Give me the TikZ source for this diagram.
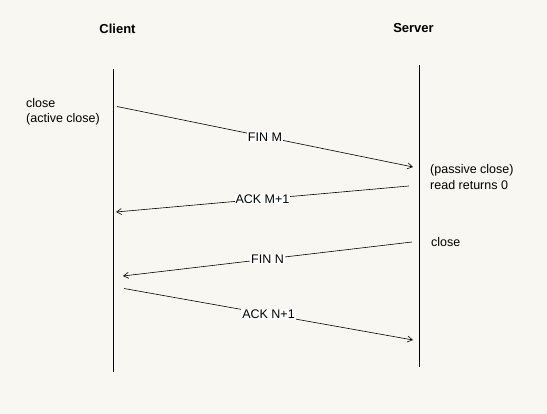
\documentclass[tikz,border=0pt]{standalone}
\usepackage{fontspec}
\setmainfont{Liberation Sans}
\usetikzlibrary{arrows.meta}
\definecolor{bgc}{RGB}{249,247,241}
\begin{document}
\begin{tikzpicture}[x=1pt,y=-1pt,
  lbl/.style={font=\fontsize{12.5}{16}\selectfont, inner sep=0pt, anchor=west, align=left},
  ttl/.style={font=\fontsize{13}{16}\selectfont\bfseries, inner sep=0pt},
  msg/.style={fill=white, inner sep=1pt, font=\fontsize{12.5}{15}\selectfont},
  life/.style={line width=0.8pt},
  arr/.style={line width=0.6pt, -{Straight Barb[length=5pt,width=6pt]}}]
\fill[bgc] (0,0) rectangle (547,414);
\useasboundingbox (0,0) rectangle (547,414);
% titles
\node[ttl] (client) at (117.5,28.5) {Client};
\node[ttl] (server) at (413.5,28.5) {Server};
% lifelines
\coordinate (ct) at (113,69);
\coordinate (cb) at (113,372);
\coordinate (st) at (419,65);
\coordinate (sb) at (419,367);
\draw[life] (ct) -- (cb);
\draw[life] (st) -- (sb);
% side labels
\node[lbl] (cl1) at (26,102.7) {close};
\node[lbl] (cl2) at (26,119.3) {(active close)};
\node[lbl] (sl1) at (430,170) {(passive close)};
\node[lbl] (sl2) at (430,185) {read returns 0};
\node[lbl] (sl3) at (431,241.7) {close};
% message endpoints
\coordinate (a1) at (117,106.5);
\coordinate (b1) at (413,167);
\coordinate (a2) at (409,186);
\coordinate (b2) at (116,212);
\coordinate (a3) at (412,242);
\coordinate (b3) at (123,276);
\coordinate (a4) at (124,288.5);
\coordinate (b4) at (413,340);
% messages
\draw[arr] (a1) -- node[msg] (m1) {FIN M} (b1);
\draw[arr] (a2) -- node[msg] (m2) {ACK M+1} (b2);
\draw[arr] (a3) -- node[msg] (m3) {FIN N} (b3);
\draw[arr] (a4) -- node[msg] (m4) {ACK N+1} (b4);
\end{tikzpicture}
\end{document}
